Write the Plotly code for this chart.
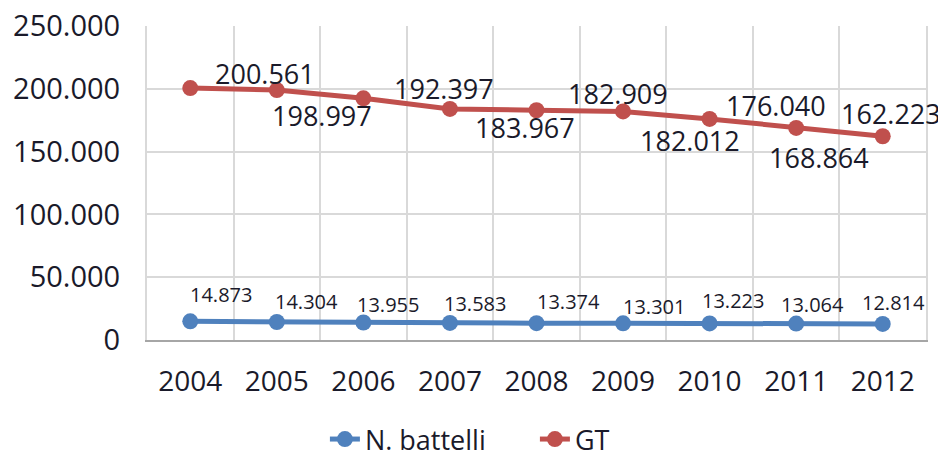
import plotly.graph_objects as go

years = ["2004", "2005", "2006", "2007", "2008", "2009", "2010", "2011", "2012"]
battelli = [14873, 14304, 13955, 13583, 13374, 13301, 13223, 13064, 12814]
gt = [200561, 198997, 192397, 183967, 182909, 182012, 176040, 168864, 162223]

# label offsets (pixels) for data labels
gt_dx = [75, 45, 81, 75, 81, 67, 66, 23, 8]
gt_dy = [15, -25, 10, -19, 17, -29, 13, -30, 23]
nb_dx = [31, 30, 25, 25, 32, 31, 23, 16, 11]
nb_dy = [27, 21, 18, 19, 22, 17, 23, 19, 21]

BLUE = "#4F81BD"
RED = "#C0504D"
TXT = "#1a1a2a"
FONT = "Open Sans"

def fmt(v):
    return f"{v:,}".replace(",", ".")

fig = go.Figure()
fig.add_trace(go.Scatter(x=years, y=battelli, mode="lines+markers", name="N. battelli",
                         line=dict(color=BLUE, width=5), marker=dict(size=16, color=BLUE)))
fig.add_trace(go.Scatter(x=years, y=gt, mode="lines+markers", name="GT",
                         line=dict(color=RED, width=5), marker=dict(size=16, color=RED)))

ann = []
for i, y in enumerate(years):
    ann.append(dict(x=i, y=gt[i], text=fmt(gt[i]), showarrow=False, xshift=gt_dx[i], yshift=gt_dy[i],
                    font=dict(size=27, color=TXT, family=FONT)))
    ann.append(dict(x=i, y=battelli[i], text=fmt(battelli[i]), showarrow=False, xshift=nb_dx[i], yshift=nb_dy[i],
                    font=dict(size=20, color=TXT, family=FONT)))

fig.update_layout(
    width=946, height=456,
    margin=dict(l=139, r=28, t=18, b=124, autoexpand=False),
    paper_bgcolor="white", plot_bgcolor="white",
    separators=",.",
    font=dict(family=FONT, size=28, color=TXT),
    annotations=ann,
    showlegend=True,
    legend=dict(orientation="h", xref="container", yref="container", x=0.335, xanchor="left",
                y=0.0, yanchor="bottom", font=dict(size=27, color=TXT, family=FONT),
                entrywidth=165, entrywidthmode="pixels"),
    xaxis=dict(type="category", range=[-0.5, 8.5], tickson="boundaries", showgrid=True,
               gridcolor="#d9d9d9", gridwidth=2, tickangle=0, automargin=False,
               showline=True, linecolor="#a6a6a6", linewidth=2, ticks="", ticklabelstandoff=15,
               tickfont=dict(size=28, color=TXT)),
    yaxis=dict(range=[0, 250000], dtick=50000, tickformat=",d", showgrid=True, gridcolor="#d9d9d9",
               gridwidth=2, zeroline=False, showline=True, mirror=True, linecolor="#d9d9d9", linewidth=2,
               automargin=False, ticklabeloverflow="allow",
               ticks="", ticklabelstandoff=19, tickfont=dict(size=29, color=TXT)),
)

fig.write_html("out.html")
